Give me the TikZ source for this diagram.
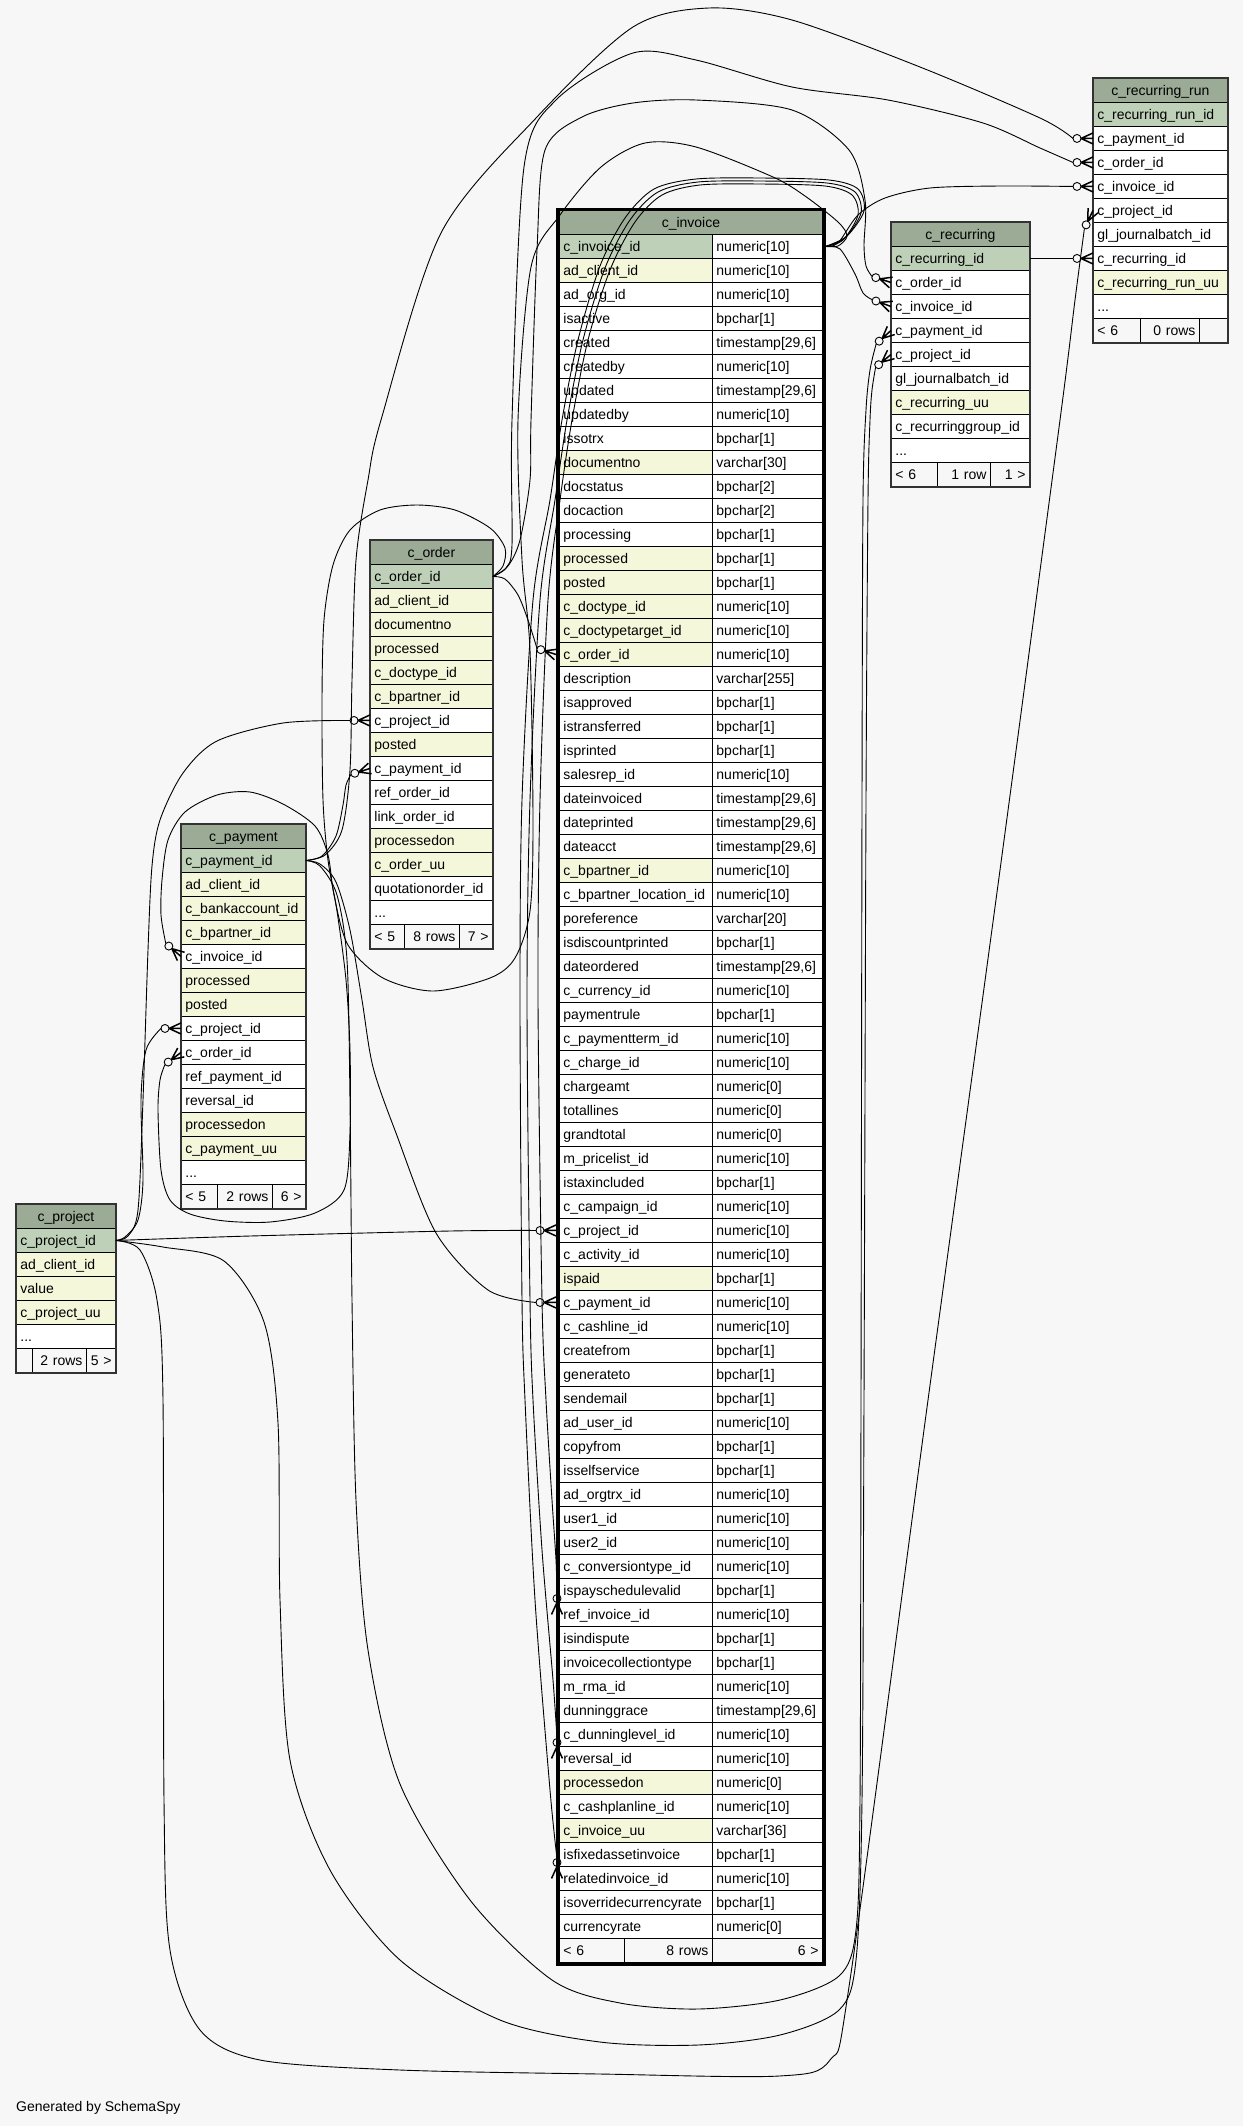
\documentclass[tikz,border=0pt]{standalone}
\usepackage{fontspec}
\setmainfont{Liberation Sans}
\usetikzlibrary{calc}
\hyphenpenalty=10000 \exhyphenpenalty=10000
\definecolor{bgc}{HTML}{F7F7F7}
\definecolor{hdrc}{HTML}{9BAB96}
\definecolor{P}{HTML}{BED1B8}
\definecolor{I}{HTML}{F4F7DA}
\definecolor{W}{HTML}{FFFFFF}
\newcommand\tabfont{\fontsize{14}{16}\selectfont}
\newcommand\threedots{...}
\tikzset{
  cellbase/.style={draw=black, line width=0.9pt, inner ysep=0pt, inner xsep=4pt, minimum height=24pt, text height=12.6pt, text depth=2pt, anchor=north west, font=\tabfont},
  lc/.style={cellbase, text width=#1, align=left},
  rc/.style={cellbase, text width=#1, align=right},
  hc/.style={cellbase, text width=#1, align=center, fill=hdrc},
  edge/.style={draw=black, line width=0.9pt},
  crowline/.style={draw=black, line width=1.5pt},
  frame/.style={draw=black!80, line width=1.3pt},
}
\newcommand\fk[2]{%
  \draw[edge] ($(#1)!4pt!(#2)$) circle[radius=4pt];
  \draw[crowline] ($(#1)!8pt!(#2)$) -- (#2)
     ($(#1)!8pt!(#2)$) -- ($(#2)!5.5pt!90:(#1)$)
     ($(#1)!8pt!(#2)$) -- ($(#2)!5.5pt!-90:(#1)$);
}
\begin{document}
\begin{tikzpicture}[x=1pt,y=-1pt]
\useasboundingbox (0,0) rectangle (1243,2126);
\fill[bgc] (0,0) rectangle (1243,2126);

% ---------------- c_invoice
\node[hc=255pt] (invh) at (559,210) {c\_invoice};
\foreach \nm/\ty/\cl [count=\i from 0] in {
c\_invoice\_id/numeric[10]/P,
ad\_client\_id/numeric[10]/I,
ad\_org\_id/numeric[10]/W,
isactive/bpchar[1]/W,
created/{timestamp[29,6]}/W,
createdby/numeric[10]/W,
updated/{timestamp[29,6]}/W,
updatedby/numeric[10]/W,
issotrx/bpchar[1]/W,
documentno/varchar[30]/I,
docstatus/bpchar[2]/W,
docaction/bpchar[2]/W,
processing/bpchar[1]/W,
processed/bpchar[1]/I,
posted/bpchar[1]/I,
c\_doctype\_id/numeric[10]/I,
c\_doctypetarget\_id/numeric[10]/I,
c\_order\_id/numeric[10]/I,
description/varchar[255]/W,
isapproved/bpchar[1]/W,
istransferred/bpchar[1]/W,
isprinted/bpchar[1]/W,
salesrep\_id/numeric[10]/W,
dateinvoiced/{timestamp[29,6]}/W,
dateprinted/{timestamp[29,6]}/W,
dateacct/{timestamp[29,6]}/W,
c\_bpartner\_id/numeric[10]/I,
c\_bpartner\_location\_id/numeric[10]/W,
poreference/varchar[20]/W,
isdiscountprinted/bpchar[1]/W,
dateordered/{timestamp[29,6]}/W,
c\_currency\_id/numeric[10]/W,
paymentrule/bpchar[1]/W,
c\_paymentterm\_id/numeric[10]/W,
c\_charge\_id/numeric[10]/W,
chargeamt/numeric[0]/W,
totallines/numeric[0]/W,
grandtotal/numeric[0]/W,
m\_pricelist\_id/numeric[10]/W,
istaxincluded/bpchar[1]/W,
c\_campaign\_id/numeric[10]/W,
c\_project\_id/numeric[10]/W,
c\_activity\_id/numeric[10]/W,
ispaid/bpchar[1]/I,
c\_payment\_id/numeric[10]/W,
c\_cashline\_id/numeric[10]/W,
createfrom/bpchar[1]/W,
generateto/bpchar[1]/W,
sendemail/bpchar[1]/W,
ad\_user\_id/numeric[10]/W,
copyfrom/bpchar[1]/W,
isselfservice/bpchar[1]/W,
ad\_orgtrx\_id/numeric[10]/W,
user1\_id/numeric[10]/W,
user2\_id/numeric[10]/W,
c\_conversiontype\_id/numeric[10]/W,
ispayschedulevalid/bpchar[1]/W,
ref\_invoice\_id/numeric[10]/W,
isindispute/bpchar[1]/W,
invoicecollectiontype/bpchar[1]/W,
m\_rma\_id/numeric[10]/W,
dunninggrace/{timestamp[29,6]}/W,
c\_dunninglevel\_id/numeric[10]/W,
reversal\_id/numeric[10]/W,
processedon/numeric[0]/I,
c\_cashplanline\_id/numeric[10]/W,
c\_invoice\_uu/varchar[36]/I,
isfixedassetinvoice/bpchar[1]/W,
relatedinvoice\_id/numeric[10]/W,
isoverridecurrencyrate/bpchar[1]/W,
currencyrate/numeric[0]/W}{
  \node[lc=145pt, fill=\cl] (inv\i) at (559,{234+24*\i}) {\nm};
  \node[lc=102pt, fill=W] (invt\i) at (712,{234+24*\i}) {\ty};
}
\node[lc=57pt, fill=bgc] (invf1) at (559,1938) {< 6};
\node[rc=80pt, fill=bgc] (invf2) at (624,1938) {8 rows};
\node[rc=102pt, fill=bgc] (invf3) at (712,1938) {6 >};
\draw[line width=2.6pt] ($(invh.north west)+(-1.5,-0.5)$) rectangle ($(invf3.south east)+(1.5,1.5)$);

% ---------------- c_recurring
\node[hc=130pt] (rech) at (891,222) {c\_recurring};
\foreach \nm/\cl [count=\i from 0] in {c\_recurring\_id/P, c\_order\_id/W, c\_invoice\_id/W, c\_payment\_id/W, c\_project\_id/W, gl\_journalbatch\_id/W, c\_recurring\_uu/I, c\_recurringgroup\_id/W, \threedots/W}{
  \node[lc=130pt, fill=\cl] (rec\i) at (891,{246+24*\i}) {\nm};
}
\node[lc=38pt, fill=bgc] (recf1) at (891,462) {< 6};
\node[rc=45pt, fill=bgc] (recf2) at (937,462) {1 row};
\node[rc=31pt, fill=bgc] (recf3) at (990,462) {1 >};
\draw[frame] (rech.north west) rectangle (recf3.south east);

% ---------------- c_recurring_run
\node[hc=126pt] (runh) at (1093,78) {c\_recurring\_run};
\foreach \nm/\cl [count=\i from 0] in {c\_recurring\_run\_id/P, c\_payment\_id/W, c\_order\_id/W, c\_invoice\_id/W, c\_project\_id/W, gl\_journalbatch\_id/W, c\_recurring\_id/W, c\_recurring\_run\_uu/I, \threedots/W}{
  \node[lc=126pt, fill=\cl] (run\i) at (1093,{102+24*\i}) {\nm};
}
\node[lc=39pt, fill=bgc] (runf1) at (1093,318) {< 6};
\node[rc=51pt, fill=bgc] (runf2) at (1140,318) {0 rows};
\node[rc=20pt, fill=bgc] (runf3) at (1199,318) {};
\draw[frame] (runh.north west) rectangle (runf3.south east);

% ---------------- c_order
\node[hc=114pt] (ordh) at (370,540) {c\_order};
\foreach \nm/\cl [count=\i from 0] in {c\_order\_id/P, ad\_client\_id/I, documentno/I, processed/I, c\_doctype\_id/I, c\_bpartner\_id/I, c\_project\_id/W, posted/I, c\_payment\_id/W, ref\_order\_id/W, link\_order\_id/W, processedon/I, c\_order\_uu/I, quotationorder\_id/W, \threedots/W}{
  \node[lc=114pt, fill=\cl] (ord\i) at (370,{564+24*\i}) {\nm};
}
\node[lc=26pt, fill=bgc] (ordf1) at (370,924) {< 5};
\node[rc=47pt, fill=bgc] (ordf2) at (404,924) {8 rows};
\node[rc=25pt, fill=bgc] (ordf3) at (459,924) {7 >};
\draw[frame] (ordh.north west) rectangle (ordf3.south east);

% ---------------- c_payment
\node[hc=116pt] (payh) at (181,824) {c\_payment};
\foreach \nm/\cl [count=\i from 0] in {c\_payment\_id/P, ad\_client\_id/I, c\_bankaccount\_id/I, c\_bpartner\_id/I, c\_invoice\_id/W, processed/I, posted/I, c\_project\_id/W, c\_order\_id/W, ref\_payment\_id/W, reversal\_id/W, processedon/I, c\_payment\_uu/I, \threedots/W}{
  \node[lc=116pt, fill=\cl] (pay\i) at (181,{848+24*\i}) {\nm};
}
\node[lc=28pt, fill=bgc] (payf1) at (181,1184) {< 5};
\node[rc=47pt, fill=bgc] (payf2) at (217,1184) {2 rows};
\node[rc=25pt, fill=bgc] (payf3) at (272,1184) {6 >};
\draw[frame] (payh.north west) rectangle (payf3.south east);

% ---------------- c_project
\node[hc=91pt] (prjh) at (16,1204) {c\_project};
\foreach \nm/\cl [count=\i from 0] in {c\_project\_id/P, ad\_client\_id/I, value/I, c\_project\_uu/I, \threedots/W}{
  \node[lc=91pt, fill=\cl] (prj\i) at (16,{1228+24*\i}) {\nm};
}
\node[lc=8pt, fill=bgc] (prjf1) at (16,1348) {};
\node[rc=46pt, fill=bgc] (prjf2) at (32,1348) {2 rows};
\node[rc=21pt, fill=bgc] (prjf3) at (86,1348) {5 >};
\draw[frame] (prjh.north west) rectangle (prjf3.south east);

\node[anchor=base west, font=\tabfont, inner sep=0pt] (gen) at (16,2111) {Generated by SchemaSpy};

% ---------------- connector end points
\coordinate (invS) at ($(invt0.east)+(2.5,0)$);
\coordinate (ea) at (run6.west); \coordinate (ba) at ($(ea)+(-20,0)$);
\coordinate (eb) at (rec2.west); \coordinate (bb) at ($(eb)+(-18.8,-6.8)$);
\coordinate (ec) at (run3.west); \coordinate (bc) at ($(ec)+(-20,0)$);
\coordinate (ed) at (run2.west); \coordinate (bd) at ($(ed)+(-20,0)$);
\coordinate (ee) at (rec1.west); \coordinate (be) at ($(ee)+(-19,-6)$);
\coordinate (ef) at (run1.west); \coordinate (bf) at ($(ef)+(-20,0)$);
\coordinate (eg) at (ord8.west); \coordinate (bg) at ($(eg)+(-19,6)$);
\coordinate (eh) at ($(inv44.west)+(-3,0)$); \coordinate (bh) at ($(eh)+(-20,0)$);
\coordinate (ei) at ($(inv41.west)+(-3,0)$); \coordinate (bi) at ($(ei)+(-20,0)$);
\coordinate (ej) at (ord6.west); \coordinate (bj) at ($(ej)+(-20,0)$);
\coordinate (ek) at (pay7.west); \coordinate (bk) at ($(ek)+(-20,0)$);
\coordinate (el) at (pay8.west); \coordinate (bl) at ($(el)+(-16,12)$);
\coordinate (em) at (pay4.west); \coordinate (bm) at ($(em)+(-15.2,-13)$);
\coordinate (en) at (rec3.west); \coordinate (bn) at ($(en)+(-14.8,13.4)$);
\coordinate (eo) at (rec4.west); \coordinate (bo) at ($(eo)+(-15.4,12.8)$);
\coordinate (ep) at (run4.west); \coordinate (bp) at ($(ep)+(-8.6,18)$);
\coordinate (eq) at ($(inv57.west)+(-2,0)$); \coordinate (bq) at ($(eq)+(0,-20)$);
\coordinate (er) at ($(inv63.west)+(-2,0)$); \coordinate (br) at ($(er)+(0,-20)$);
\coordinate (es) at ($(inv68.west)+(-2,0)$); \coordinate (bs) at ($(es)+(0,-20)$);
\coordinate (et) at ($(inv17.west)+(-3,0)$); \coordinate (bt) at ($(et)+(-19,-6)$);

% ---------------- connectors
\draw[edge] (rec0.east) -- (ba); \fk{ba}{ea}
\draw[edge] plot[smooth] coordinates {(invS) (840,249) (855,274) (863,293) (bb)}; \fk{bb}{eb}
\draw[edge] plot[smooth] coordinates {(invS) (838,243) (858,215) (885,198) (930,188) (1000,186) (bc)}; \fk{bc}{ec}
\draw[edge] plot[smooth] coordinates {(ord0.east) (506,568) (512,545) (512,420) (524,167) (556,100) (633,53) (696,60) (792,87) (888,100) (983,123) (1040,148) (bd)}; \fk{bd}{ed}
\draw[edge] plot[smooth] coordinates {(ord0.east) (508,566) (520,540) (530,480) (531,420) (537,250) (545,150) (582,117) (633,103) (696,100) (792,110) (849,150) (865,200) (864,245) (866,266) (be)}; \fk{be}{ee}
\draw[edge] plot[smooth] coordinates {(pay0.east) (325,855) (342,830) (350,770) (352,680) (356,560) (368,480) (381,420) (441,233) (537,117) (633,27) (709,8) (792,20) (920,67) (1040,118) (bf)}; \fk{bf}{ef}
\draw[edge] plot[smooth] coordinates {(pay0.east) (322,856) (336,836) (343,805) (346,785) (bg)}; \fk{bg}{eg}
\draw[edge] plot[smooth] coordinates {(pay0.east) (320,864) (336,882) (350,930) (362,1000) (373,1067) (396,1133) (436,1233) (488,1290) (bh)}; \fk{bh}{eh}
\draw[edge] plot[smooth] coordinates {(prj0.east) (250,1236) (450,1231) (bi)}; \fk{bi}{ei}
\draw[edge] plot[smooth] coordinates {(prj0.east) (128,1236) (138,1210) (143,1100) (148,950) (152,866) (160,820) (183,773) (217,741) (283,723) (bj)}; \fk{bj}{ej}
\draw[edge] plot[smooth] coordinates {(prj0.east) (125,1237) (138,1220) (143,1180) (141,1100) (146,1050) (bk)}; \fk{bk}{ek}
\draw[edge] plot[smooth] coordinates {(ord0.east) (503,566) (505,548) (490,528) (455,510) (417,505) (380,510) (350,530) (333,565) (324,620) (322,700) (323,800) (328,860) (337,911) (346,980) (350,1050) (350,1133) (344,1190) (315,1213) (270,1222) (225,1221) (190,1214) (170,1200) (161,1170) (158,1110) (160,1080) (bl)}; \fk{bl}{el}
\draw[edge] plot[smooth] coordinates {(invS) (838,246) (847,236) (838,222) (805,196) (773,177) (696,147) (645,143) (601,167) (560,215) (531,267) (518,420) (522,560) (530,650) (533,822) (530,911) (515,958) (490,978) (433,991) (383,978) (348,945) (334,895) (328,855) (315,826) (283,804) (250,792) (217,795) (185,812) (168,840) (162,880) (161,915) (bm)}; \fk{bm}{em}
\draw[edge] plot[smooth] coordinates {(pay0.east) (320,866) (337,895) (347,960) (350,1100) (352,1300) (356,1500) (368,1650) (400,1784) (470,1900) (552,1980) (620,2003) (698,2009) (780,2000) (839,1976) (856,1930) (860,1800) (861,1400) (862,800) (863,500) (866,410) (870,370) (bn)}; \fk{bn}{en}
\draw[edge] plot[smooth] coordinates {(prj0.east) (163,1247) (224,1261) (264,1322) (278,1423) (280,1600) (290,1760) (330,1870) (400,1960) (500,2020) (600,2042) (698,2045) (780,2035) (839,2010) (856,1960) (862,1800) (864,1400) (866,800) (868,500) (870,420) (872,390) (bo)}; \fk{bo}{eo}
\draw[edge] plot[smooth] coordinates {(prj0.east) (140,1250) (157,1300) (163,1400) (164,1800) (170,1950) (200,2030) (260,2060) (400,2070) (600,2074) (779,2076) (830,2060) (850,1980) (928,1400) (1000,870) (1060,420) (1075,300) (bp)}; \fk{bp}{ep}
\draw[edge] plot[smooth] coordinates {(invS) (843,240) (858,215) (852,195) (825,186) (760,184) (700,185) (662,195) (635,222) (610,270) (588,340) (572,420) (560,500) (548,600) (540,800) (538,1000) (542,1300) (546,1400) (552,1500) (556,1560) (bq)}; \fk{bq}{eq}
\draw[edge] plot[smooth] coordinates {(invS) (845,238) (861,213) (855,192) (827,183) (760,181) (698,182) (658,192) (630,220) (605,268) (583,340) (567,420) (555,500) (540,600) (530,800) (527,1000) (530,1300) (533,1400) (542,1550) (553,1680) (br)}; \fk{br}{er}
\draw[edge] plot[smooth] coordinates {(invS) (847,236) (864,211) (858,189) (829,180) (760,178) (696,179) (654,189) (625,218) (600,266) (578,340) (562,420) (550,500) (533,600) (522,800) (520,1000) (522,1300) (525,1400) (535,1600) (550,1790) (bs)}; \fk{bs}{es}
\draw[edge] plot[smooth] coordinates {(ord0.east) (505,579) (518,595) (528,620) (bt)}; \fk{bt}{et}
\end{tikzpicture}
\end{document}
